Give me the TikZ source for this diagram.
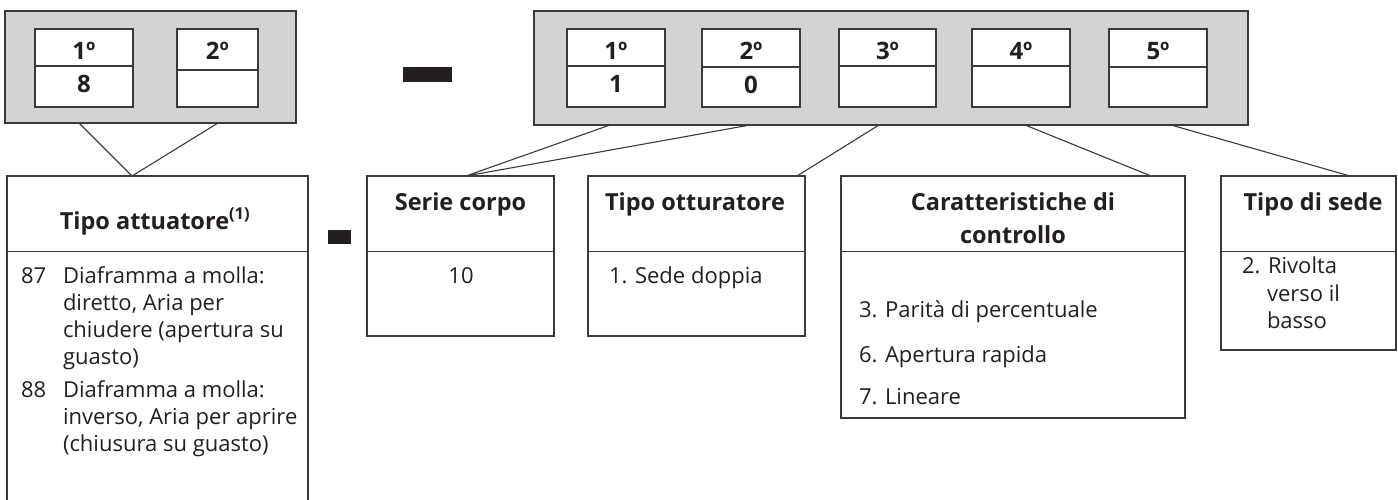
\documentclass[tikz,border=0pt]{standalone}
\usepackage{fontspec}
\setmainfont{Open Sans}
\usetikzlibrary{calc}
\definecolor{panel}{HTML}{D2D3D5}
\definecolor{ink}{HTML}{231F20}
\definecolor{rulec}{HTML}{3A3A3A}

\begin{document}
\begin{tikzpicture}[x=1pt,y=-1pt,
  every node/.style={inner sep=0pt, outer sep=0pt},
  frame/.style={draw=rulec, line width=1.3pt, anchor=north west},
  panelbox/.style={frame, fill=panel},
  cellbox/.style={frame, fill=white},
  link/.style={draw=rulec, line width=1.1pt},
  bar/.style={fill=ink, anchor=north west},
  digit/.style={font=\fontsize{24}{28}\selectfont\bfseries, text=ink, anchor=base},
  head/.style={font=\fontsize{23.5}{28}\selectfont\bfseries, text=ink, anchor=base},
  body/.style={font=\fontsize{22}{27}\selectfont, text=ink, anchor=base west},
]
\useasboundingbox (0,0) rectangle (1398,500);

% ---------- left code panel (actuator) ----------
\node[panelbox, minimum width=291pt, minimum height=112pt] (pl) at (5,11) {};
\node[cellbox, minimum width=98pt, minimum height=37pt] (l1h) at (35,29) {};
\node[cellbox, minimum width=98pt, minimum height=41pt] (l1v) at (35,66) {};
\node[cellbox, minimum width=81pt, minimum height=41pt] (l2h) at (177,29) {};
\node[cellbox, minimum width=81pt, minimum height=37pt] (l2v) at (177,70) {};
\node[digit] (l1t) at (84,60) {1º};
\node[digit] (l1n) at (84,93) {8};
\node[digit] (l2t) at (217.5,60) {2º};

% ---------- separators ----------
\node[bar, minimum width=49pt, minimum height=15pt] (dashA) at (403,67) {};
\node[bar, minimum width=23pt, minimum height=14pt] (dashB) at (328,230) {};

% ---------- right code panel (valve body) ----------
\node[panelbox, minimum width=714pt, minimum height=114pt] (pr) at (534,11) {};
\node[cellbox, minimum width=98pt, minimum height=37pt] (r1h) at (567,29) {};
\node[cellbox, minimum width=98pt, minimum height=41pt] (r1v) at (567,66) {};
\node[cellbox, minimum width=98pt, minimum height=38pt] (r2h) at (702,29) {};
\node[cellbox, minimum width=98pt, minimum height=40pt] (r2v) at (702,67) {};
\node[cellbox, minimum width=97pt, minimum height=37pt] (r3h) at (839,29) {};
\node[cellbox, minimum width=97pt, minimum height=41pt] (r3v) at (839,66) {};
\node[cellbox, minimum width=98pt, minimum height=37pt] (r4h) at (972,29) {};
\node[cellbox, minimum width=98pt, minimum height=41pt] (r4v) at (972,66) {};
\node[cellbox, minimum width=98pt, minimum height=38pt] (r5h) at (1109,29) {};
\node[cellbox, minimum width=98pt, minimum height=40pt] (r5v) at (1109,67) {};
\node[digit] (r1t) at (616,60) {1º};
\node[digit] (r1n) at (616,93) {1};
\node[digit] (r2t) at (751,60) {2º};
\node[digit] (r2n) at (751,94) {0};
\node[digit] (r3t) at (887.5,60) {3º};
\node[digit] (r4t) at (1021,60) {4º};
\node[digit] (r5t) at (1158,60) {5º};

% ---------- description tables ----------
% actuator type
\node[frame, minimum width=301pt, minimum height=75.5pt] (tah) at (7,176) {};
\node[frame, minimum width=301pt, minimum height=262pt] (tab) at (7,251.5) {};
\node[head] (tat) at (155,229) {Tipo attuatore\textsuperscript{(1)}};
\node[body] (ta87) at (21,283) {87};
\node[body] (ta1) at (63,283) {Diaframma a molla:};
\node[body] (ta2) at (63,310) {diretto, Aria per};
\node[body] (ta3) at (63,337) {chiudere (apertura su};
\node[body] (ta4) at (63,364) {guasto)};
\node[body] (ta88) at (21,397) {88};
\node[body] (ta5) at (63,397) {Diaframma a molla:};
\node[body] (ta6) at (63,424) {inverso, Aria per aprire};
\node[body] (ta7) at (63,451) {(chiusura su guasto)};

% body series
\node[frame, minimum width=187pt, minimum height=75.5pt] (sch) at (367,176) {};
\node[frame, minimum width=187pt, minimum height=84.5pt] (scb) at (367,251.5) {};
\node[head] (sct) at (460.5,211) {Serie corpo};
\node[body, anchor=base] (sc1) at (461,283) {10};

% plug type
\node[frame, minimum width=217pt, minimum height=75.5pt] (toh) at (588,176) {};
\node[frame, minimum width=217pt, minimum height=84.5pt] (tob) at (588,251.5) {};
\node[head] (tot) at (695,211) {Tipo otturatore};
\node[body] (to1) at (609,283) {1. Sede doppia};

% control characteristics
\node[frame, minimum width=344pt, minimum height=75.5pt] (cch) at (841,176) {};
\node[frame, minimum width=344pt, minimum height=166.5pt] (ccb) at (841,251.5) {};
\node[head] (cct1) at (1013,211) {Caratteristiche di};
\node[head] (cct2) at (1013,243) {controllo};
\node[body] (cc1) at (859,317) {3. Parità di percentuale};
\node[body] (cc2) at (859,362) {6. Apertura rapida};
\node[body] (cc3) at (859,404) {7. Lineare};

% seat type
\node[frame, minimum width=175pt, minimum height=75.5pt] (tsh) at (1221,176) {};
\node[frame, minimum width=175pt, minimum height=98.5pt] (tsb) at (1221,251.5) {};
\node[head] (tst) at (1313,210) {Tipo di sede};
\node[body] (ts1) at (1242,273) {2. Rivolta};
\node[body] (ts2) at (1267,301) {verso il};
\node[body] (ts3) at (1267,328) {basso};

% ---------- connectors ----------
\coordinate (plA) at ($(pl.south west)+(74,0)$);
\coordinate (plB) at ($(pl.south west)+(213,0)$);
\coordinate (taIn) at ($(tah.north west)+(125,0)$);
\coordinate (prA) at ($(pr.south west)+(76,0)$);
\coordinate (prB) at ($(pr.south west)+(216,0)$);
\coordinate (prC) at ($(pr.south west)+(345,0)$);
\coordinate (prD) at ($(pr.south west)+(491,0)$);
\coordinate (prE) at ($(pr.south west)+(637,0)$);
\coordinate (scIn) at ($(sch.north west)+(99,0)$);
\coordinate (toIn) at ($(toh.north west)+(209,0)$);
\coordinate (ccIn) at ($(cch.north west)+(310,0)$);
\coordinate (tsIn) at ($(tsh.north west)+(129,0)$);
\draw[link] (plA) -- (taIn) -- (plB);
\draw[link] (prA) -- (scIn) -- (prB);
\draw[link] (prC) -- (toIn);
\draw[link] (prD) -- (ccIn);
\draw[link] (prE) -- (tsIn);
\end{tikzpicture}
\end{document}
